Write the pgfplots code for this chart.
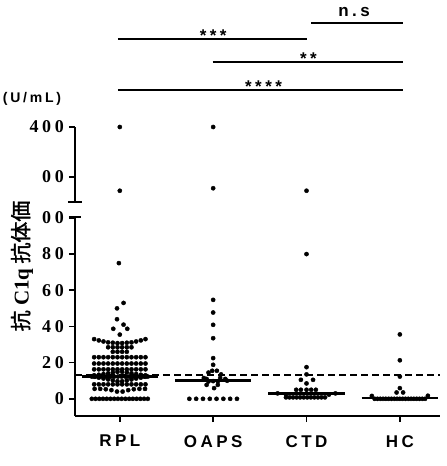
\documentclass[border=0pt]{standalone}
\usepackage{fontspec}
\setmainfont{Liberation Sans}
\newfontfamily\tickfont{Liberation Serif}[LetterSpace=20]
\newfontfamily\catfont{Liberation Sans}[LetterSpace=20]
\newfontfamily\seriffont{Liberation Serif}
\newfontfamily\cjk{Noto Sans CJK JP}[FakeBold=1.5]
\usepackage{pgfplots}
\pgfplotsset{compat=1.18}
\pgfplotsset{
  base/.style={
    scale only axis, width=365pt, xmin=-0.48, xmax=3.43,
    axis line style={line width=1.8pt},
    tick style={line width=1.6pt, black},
    tick align=outside, major tick length=6pt,
    yticklabel style={font=\tickfont\bfseries\fontsize{18}{18}\selectfont, inner sep=0pt, xshift=-5pt},
    clip=false,
  },
  dots/.style={only marks, mark=*, mark size=2.1pt, black},
  med/.style={black, line width=2.6pt},
}
\begin{document}
\begin{tikzpicture}
\useasboundingbox (-75pt,-50pt) rectangle (372pt,416pt);
% ---------- lower segment ----------
\begin{axis}[base, at={(0,0)}, anchor=south west, height=199pt,
  ymin=-9.5, ymax=100.5, axis x line*=bottom, axis y line*=left,
  ytick={0,20,40,60,80,100}, yticklabels={0,20,40,60,80,00},
  xtick={0,1,2,3}, xticklabels={RPL,OAPS,CTD,HC},
  xticklabel style={font=\catfont\bfseries\fontsize{17}{17}\selectfont, inner sep=0pt, yshift=-13pt}]
\addplot[black, line width=2pt, dash pattern=on 7pt off 4pt] coordinates {(-0.48,13.3) (3.43,13.3)};
% RPL
\addplot[dots] coordinates {
(-0.30,0)(-0.26,0)(-0.22,0)(-0.18,0)(-0.14,0)(-0.10,0)(-0.06,0)(-0.02,0)(0.02,0)(0.06,0)(0.10,0)(0.14,0)(0.18,0)(0.22,0)(0.26,0)(0.30,0)
(-0.27,5.5)(-0.21,5.5)(-0.15,5.3)(-0.09,4.8)(-0.03,4.0)(0.03,4.0)(0.09,4.8)(0.15,5.3)(0.21,5.5)(0.27,5.5)
(-0.275,8)(-0.225,8)(-0.175,8)(-0.125,8)(-0.075,8)(-0.025,8)(0.025,8)(0.075,8)(0.125,8)(0.175,8)(0.225,8)(0.275,8)
(-0.275,12.2)(-0.225,11.7)(-0.175,11.2)(-0.125,10.7)(-0.075,10.2)(-0.025,9.7)(0.025,9.7)(0.075,10.2)(0.125,10.7)(0.175,11.2)(0.225,11.7)(0.275,12.2)
(-0.30,12.3)(-0.26,12.3)(-0.22,12.3)(-0.18,12.3)(-0.14,12.3)(-0.10,12.3)(-0.06,12.3)(-0.02,12.3)(0.02,12.3)(0.06,12.3)(0.10,12.3)(0.14,12.3)(0.18,12.3)(0.22,12.3)(0.26,12.3)(0.30,12.3)
(-0.275,13.0)(-0.225,13.3)(-0.175,13.7)(-0.125,14.1)(-0.075,14.5)(-0.025,14.9)(0.025,14.9)(0.075,14.5)(0.125,14.1)(0.175,13.7)(0.225,13.3)(0.275,13.0)
(-0.275,16.3)(-0.225,16.3)(-0.175,16.3)(-0.125,16.3)(-0.075,16.3)(-0.025,16.3)(0.025,16.3)(0.075,16.3)(0.125,16.3)(0.175,16.3)(0.225,16.3)(0.275,16.3)
(-0.275,19.5)(-0.225,19.5)(-0.175,19.5)(-0.125,19.5)(-0.075,19.5)(-0.025,19.5)(0.025,19.5)(0.075,19.5)(0.125,19.5)(0.175,19.5)(0.225,19.5)(0.275,19.5)
(-0.275,23)(-0.225,23)(-0.175,23)(-0.125,23)(-0.075,23)(-0.025,23)(0.025,23)(0.075,23)(0.125,23)(0.175,23)(0.225,23)(0.275,23)
(-0.075,26)(-0.025,26)(0.025,26)(0.075,26)
(-0.125,28.5)(-0.075,28.5)(-0.025,28.5)(0.025,28.5)(0.075,28.5)(0.125,28.5)
(-0.275,33.0)(-0.225,32.3)(-0.175,31.7)(-0.125,31.2)(-0.075,31.0)(-0.025,30.8)(0.025,30.8)(0.075,31.0)(0.125,31.2)(0.175,31.7)(0.225,32.3)(0.275,33.0)
(0.00,35.5)(0.08,38.7)(-0.07,38.7)(0.04,41)(-0.03,44)(-0.03,50)(0.04,53)(-0.01,75)
};
% OAPS
\addplot[dots] coordinates {
(0.745,0)(0.818,0)(0.891,0)(0.964,0)(1.036,0)(1.109,0)(1.182,0)(1.255,0)
(0.95,14.5)(0.99,15.5)(1.04,15.5)(1.085,13.5)(0.90,11.5)(0.93,11.0)(1.075,11.5)(1.13,11.0)
(0.95,9.6)(1.00,9.8)(1.05,9.6)(0.93,7.7)(1.05,7.7)(1.01,5.9)(1.15,10.0)
(1,18.8)(1,22.5)(1,33.5)(1,40.9)(1,47.7)(1,54.7)
};
% CTD
\addplot[dots] coordinates {
(1.78,0.8)(1.818,0.8)(1.856,0.8)(1.894,0.8)(1.932,0.8)(1.97,0.8)(2.008,0.8)(2.046,0.8)(2.084,0.8)(2.122,0.8)(2.16,0.8)(2.198,0.8)
(1.69,3.0)(1.78,2.3)(2.24,2.3)(2.31,3.0)
(1.89,5.0)(1.94,5.0)(2.0,5.0)(2.05,5.0)(2.10,5.0)
(1.94,10.5)(2.07,10.5)(2.0,8.5)(2.0,13.5)(2.0,17.5)(2.0,80)
};
% HC
\addplot[dots] coordinates {
(2.73,0)(2.76,0)(2.79,0)(2.82,0)(2.85,0)(2.88,0)(2.91,0)(2.94,0)(2.97,0)(3.00,0)(3.03,0)(3.06,0)(3.09,0)(3.12,0)(3.15,0)(3.18,0)(3.21,0)(3.24,0)(3.27,0)
(2.70,1.6)(3.30,1.7)
(2.965,3.5)(3.035,3.5)(3.0,5.9)(3.0,12.3)(3.0,21.3)(3.0,35.6)
};
\addplot[med] coordinates {(-0.41,12.5) (0.41,12.5)};
\addplot[med] coordinates {(0.59,10) (1.41,10)};
\addplot[med] coordinates {(1.59,3.1) (2.41,3.1)};
\addplot[med] coordinates {(2.59,0.5) (3.41,0.5)};
\end{axis}
% ---------- upper segment ----------
\begin{axis}[base, at={(0,214pt)}, anchor=south west, height=75pt,
  ymin=100, ymax=400, axis x line=none, axis y line*=left,
  ytick={200,400}, yticklabels={00,400}]
\addplot[dots] coordinates {(0,145)(0,400)(1,155)(1,400)(2,145)};
% significance bars
\draw[line width=2pt] (axis cs:2.05,814.8) -- (axis cs:3.03,814.8);
\draw[line width=2pt] (axis cs:-0.02,751.2) -- (axis cs:2.0,751.2);
\draw[line width=2pt] (axis cs:0.995,661.2) -- (axis cs:3.03,661.2);
\draw[line width=2pt] (axis cs:-0.02,548) -- (axis cs:3.03,548);
\node[anchor=base, inner sep=0pt, yshift=7pt, font=\catfont\bfseries\fontsize{17}{17}\selectfont] at (axis cs:2.51,814.8) {n.s};
\node[anchor=base, inner sep=0pt, yshift=-2.4pt, font=\catfont\bfseries\fontsize{17}{17}\selectfont] at (axis cs:1.0,751.2) {***};
\node[anchor=base, inner sep=0pt, yshift=-2.4pt, font=\catfont\bfseries\fontsize{17}{17}\selectfont] at (axis cs:2.02,661.2) {**};
\node[anchor=base, inner sep=0pt, yshift=-2.4pt, font=\catfont\bfseries\fontsize{17}{17}\selectfont] at (axis cs:1.54,548) {****};
\end{axis}
% axis-break caps
\draw[line width=1.8pt] (-6pt,199pt) -- (6pt,199pt);
\draw[line width=1.8pt] (-7pt,214pt) -- (7pt,214pt);
\node[rotate=90, inner sep=0pt] at (-53pt,150pt) {\fontsize{21}{21}\selectfont\cjk 抗 {\seriffont\bfseries C1q} 抗体価};
\node[inner sep=0pt, font=\catfont\bfseries\fontsize{14}{14}\selectfont] at (-43pt,317pt) {(U/mL)};
\end{tikzpicture}
\end{document}
